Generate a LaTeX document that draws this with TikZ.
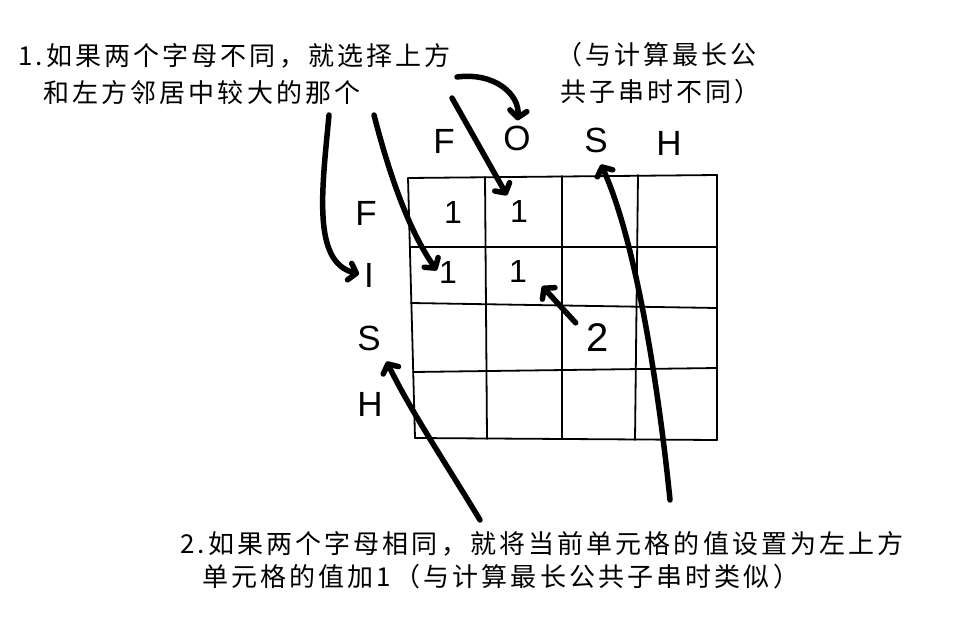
\documentclass[tikz,border=0pt]{standalone}
\usepackage{fontspec}
\newfontfamily\cjk{Noto Sans CJK SC}[LetterSpace=12]
\newfontfamily\lat{Liberation Sans}
\usetikzlibrary{arrows.meta}
\begin{document}
\begin{tikzpicture}[x=1pt,y=-1pt,
  note/.style={font=\cjk\fontsize{26}{26}\selectfont, inner sep=0pt, anchor=base west},
  letter/.style={font=\lat\fontsize{35}{35}\selectfont, inner sep=1pt},
  val/.style={font=\lat\fontsize{32}{32}\selectfont, inner sep=1pt},
  gridline/.style={line width=1.8pt, line cap=round},
  pointer/.style={line width=5.5pt, line cap=round, -{Straight Barb[length=7pt,width=17pt,round]}}]
\fill[white] (0,0) rectangle (958,616);
\useasboundingbox (0,0) rectangle (958,616);

% texts
\node[note] (t1a) at (18,65) {1.如果两个字母不同，就选择上方};
\node[note] (t1b) at (43,102) {和左方邻居中较大的那个};
\node[note] (t2a) at (556,64) {（与计算最长公};
\node[note] (t2b) at (560,101) {共子串时不同）};
\node[note] (t3a) at (180,553) {2.如果两个字母相同，就将当前单元格的值设置为左上方};
\node[note] (t3b) at (202,586) {单元格的值加1（与计算最长公共子串时类似）};

% grid
\draw[gridline] (408,178) -- (717,175);
\draw[gridline] (410,247) -- (717,247);
\draw[gridline] (411,303) -- (717,308);
\draw[gridline] (413,372) -- (717,368);
\draw[gridline] (415,438) -- (717,440);
\draw[gridline] (408,178) -- (415,438);
\draw[gridline] (485,177) -- (487,439);
\draw[gridline] (562,176) -- (562,439);
\draw[gridline] (638,175) -- (635,440);
\draw[gridline] (717,175) -- (717,440);

% letters
\node[letter] (tF) at (444,141) {F};
\node[letter] (tO) at (517,138) {O};
\node[letter] (tS) at (596,140) {S};
\node[letter] (tH) at (669,143) {H};
\node[letter] (lF) at (366,213) {F};
\node[letter] (lI) at (369,275) {I};
\node[letter] (lS) at (369,338) {S};
\node[letter] (lH) at (370,404) {H};

% values
\node[val] (v00) at (453,212) {1};
\node[val] (v01) at (519,211) {1};
\node[val] (v10) at (448,272) {1};
\node[val] (v11) at (518,271) {1};
\node[val, font=\lat\fontsize{40}{40}\selectfont] (two) at (598,338) {2};

% arrow starts
\coordinate (sA) at (329,115);
\coordinate (sB) at (374,115);
\coordinate (sC) at (452,98);
\coordinate (sD) at (457,77);
\coordinate (sE) at (480,520);
\coordinate (sF) at (670,500);

\draw[pointer, shorten >=4pt] (sA) .. controls (322,190) and (312,262) .. (lI.west);
\draw[pointer, shorten >=2pt] (sB) .. controls (392,185) and (412,235) .. (v10.west);
\draw[pointer, shorten >=4pt] (sC) -- (v01.north west);
\draw[pointer, shorten >=4pt] (sD) .. controls (495,72) and (520,95) .. (tO.north);
\draw[pointer, shorten >=11pt] (sE) .. controls (450,470) and (410,410) .. (lS.south east);
\draw[pointer, shorten >=12pt] (sF) .. controls (662,420) and (640,250) .. (tS.south);
\draw[pointer] ([xshift=-10pt]two.north west) -- ([xshift=14pt,yshift=-3pt]v11.south east);
\end{tikzpicture}
\end{document}
